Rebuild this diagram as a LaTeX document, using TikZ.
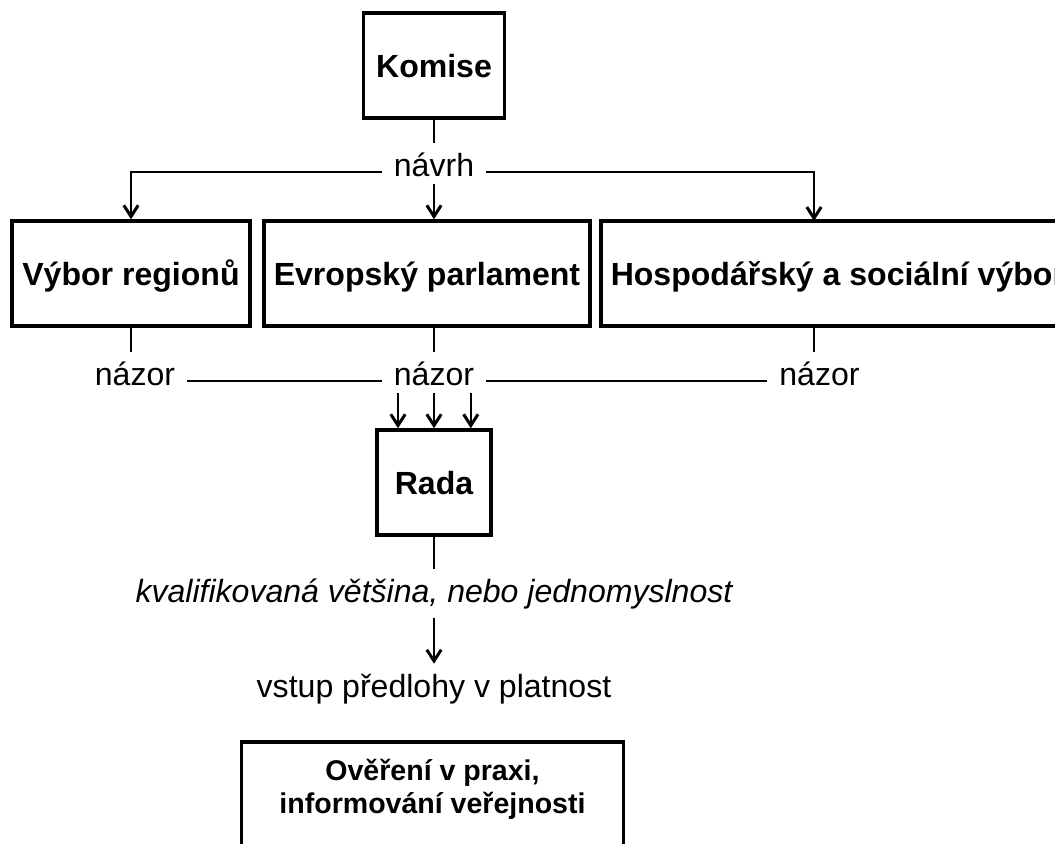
\documentclass[tikz,border=0pt]{standalone}
\usepackage{fontspec}
\setmainfont{Liberation Sans}
\usetikzlibrary{arrows.meta}

\newcommand{\figfont}{\fontsize{22.8}{27}\selectfont}
\newcommand{\notefont}{\fontsize{20.3}{23.5}\selectfont\bfseries}

\tikzset{
  organ/.style={draw, line width=0.0875cm, minimum height=2.625cm, inner xsep=0.25cm,
    text height=0.6cm, text depth=0.025cm, font=\figfont\bfseries},
  lbl/.style={inner xsep=0.3cm, inner ysep=0.1cm, text height=0.725cm, text depth=0.1cm},
  conn/.style={line width=0.05cm},
  flow/.style={conn, -{Straight Barb[length=0.28cm,width=0.36cm,line width=0.075cm]}},
  frame/.style={line width=0.0875cm},
}

\begin{document}
\begin{tikzpicture}[font=\figfont]
    \useasboundingbox (0,0) rectangle (26.375,-21.1);
    \clip (0,0) rectangle (26.375,-21.1);

    % institutions
    \node[organ, minimum width=3.525cm] (komise) at (10.85,-1.6375) {Komise};
    \node[organ, minimum width=5.95cm] (vr) at (3.275,-6.8375) {Výbor regionů};
    \node[organ, minimum width=8.1cm] (ep) at (10.675,-6.8375) {Evropský parlament};
    \node[organ, anchor=west] (hs) at (14.975,-6.8375) {Hospodářský a sociální výbor};
    \node[organ, minimum width=2.85cm] (rada) at (10.85,-12.0625) {Rada};

    % labels
    \node[lbl, anchor=base] (navrh) at (10.85,-4.4) {návrh};
    \node[lbl, anchor=base] (nz1) at (3.375,-9.625) {názor};
    \node[lbl, anchor=base] (nz2) at (10.85,-9.625) {názor};
    \node[lbl, anchor=base] (nz3) at (20.4875,-9.625) {názor};
    \node[lbl, anchor=base, text depth=0.3cm, font=\figfont\itshape] (kv) at (10.85,-15.05) {kvalifikovaná většina, nebo jednomyslnost};
    \node[lbl, anchor=base] (vstup) at (10.85,-17.425) {vstup předlohy v platnost};
    \node[align=center, font=\notefont, anchor=north, inner ysep=0.42cm, minimum width=9.525cm] (ov) at (10.8125,-18.55) {Ověření v praxi,\\informování veřejnosti};
    \coordinate (hsin) at (20.35,-5.525);
    \coordinate (bot) at (0,-22);

    % proposal
    \draw[conn] (komise.south) -- (navrh.north);
    \draw[flow] (navrh.mid west) -| (vr.north);
    \draw[flow] (navrh.south) -- (navrh.south |- ep.north);
    \draw[flow] (navrh.mid east) -| (hsin);

    % opinions
    \draw[conn] (vr.south) -- (vr.south |- nz1.north);
    \draw[conn] (nz2.north |- ep.south) -- (nz2.north);
    \draw[conn] (hsin |- hs.south) -- (hsin |- nz3.north);
    \draw[conn] (nz1.mid east) -- (nz2.mid west);
    \draw[conn] (nz2.mid east) -- (nz3.mid west);
    \foreach \dx in {-0.9,0,0.92}
      \draw[flow] ([xshift=\dx cm]nz2.south) -- ([xshift=\dx cm]rada.north);

    % decision
    \draw[conn] (rada.south) -- (kv.north);
    \draw[flow] (kv.south) -- (vstup.north);
    \draw[frame] (ov.west |- bot) -- (ov.north west) -- (ov.north east) -- (ov.east |- bot);
\end{tikzpicture}
\end{document}
